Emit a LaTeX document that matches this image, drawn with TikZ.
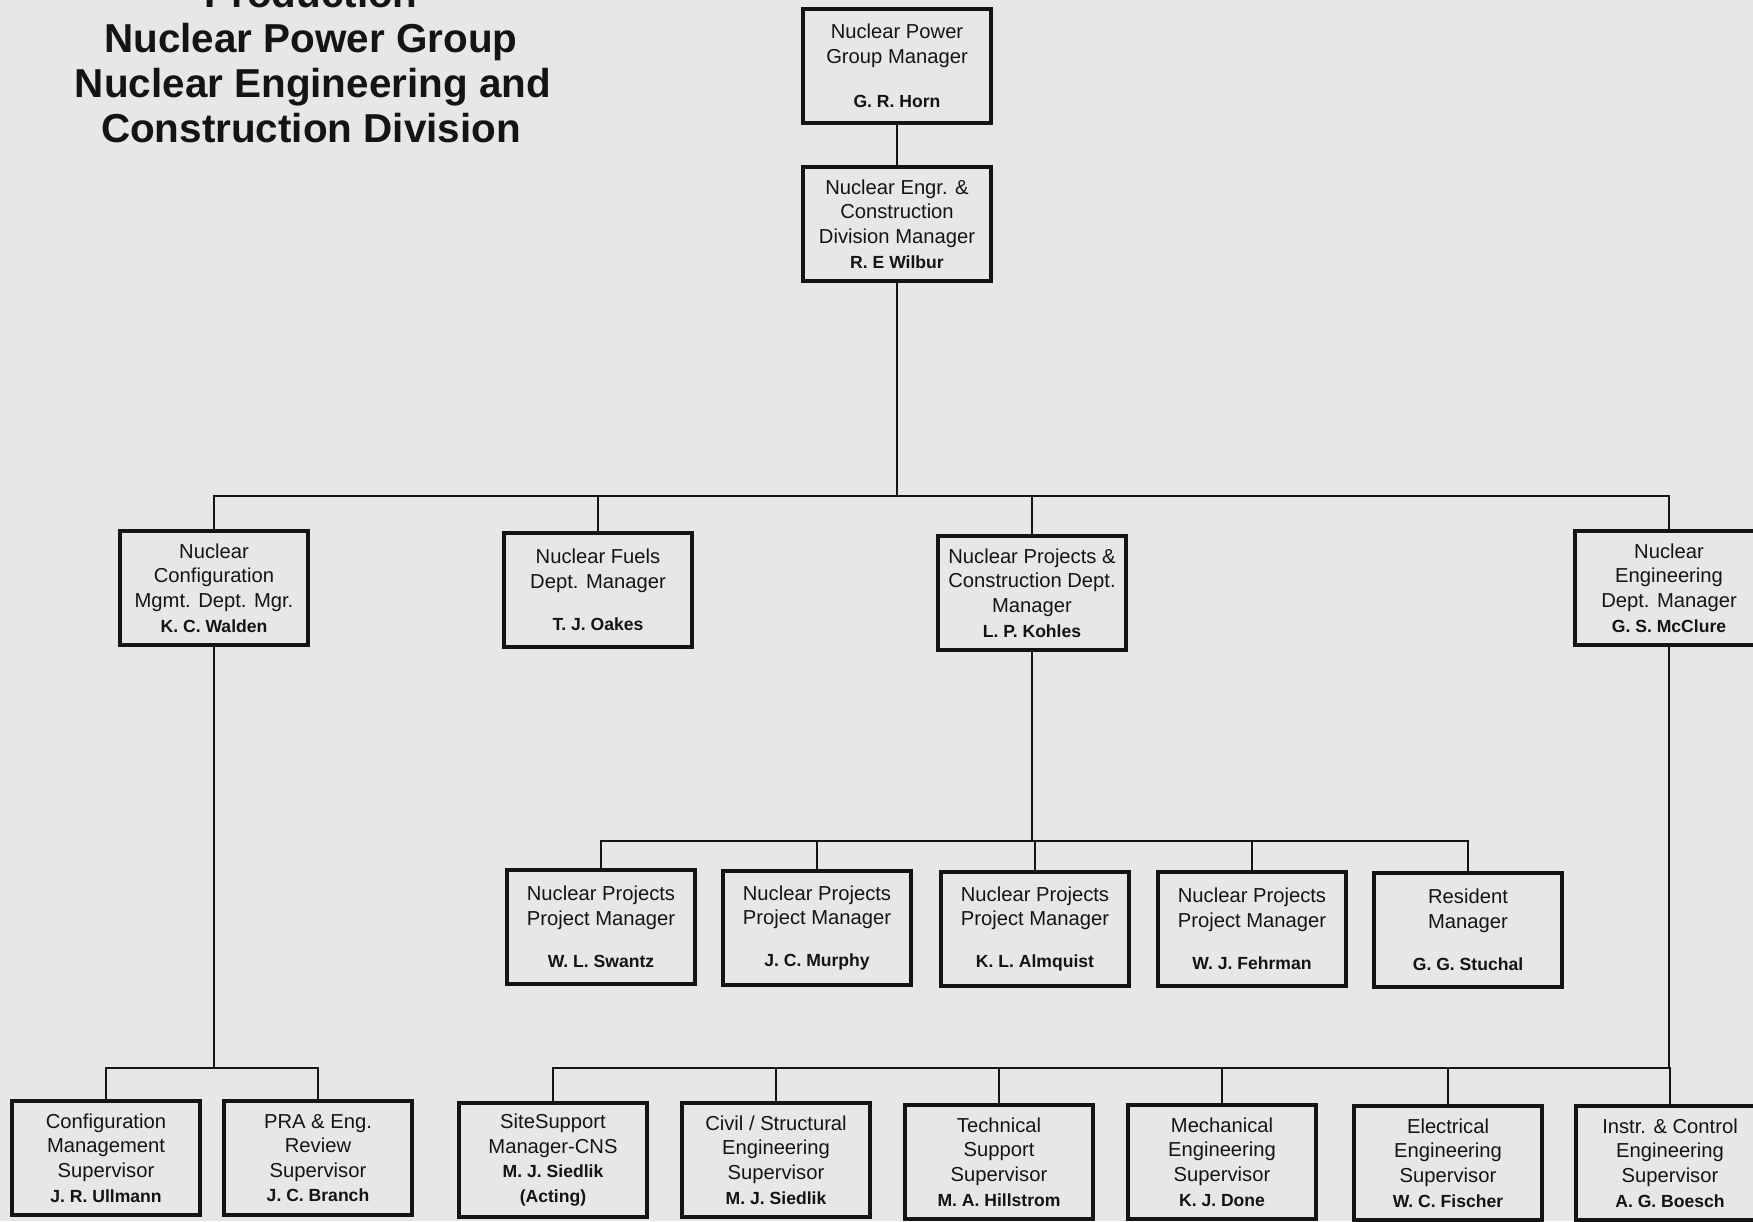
\documentclass[tikz,border=0pt]{standalone}
\usepackage{fontspec}
\setmainfont{Liberation Sans}
\usepackage{tikz}

\definecolor{paper}{RGB}{231,231,231}
\definecolor{ink}{RGB}{20,20,20}
\newcommand{\who}[1]{{\bfseries\fontsize{10}{12}\selectfont #1}}

\begin{document}
\begin{tikzpicture}[x=0.02cm,y=-0.02cm,
  box/.style={draw=ink,line width=2pt,minimum width=3.76cm,minimum height=2.28cm,
    inner sep=0pt,align=center,text=ink,font=\fontsize{11.5}{14}\selectfont},
  head/.style={anchor=base,text=ink,font=\bfseries\fontsize{23}{25}\selectfont},
  wire/.style={draw=ink,line width=1.3pt}]
  \fill[paper] (0,0) rectangle (1753,1221);
  \useasboundingbox (0,0) rectangle (1753,1221);

  \node[head] (t0) at (311,7)   {Production};
  \node[head] (t1) at (311,52)  {Nuclear Power Group};
  \node[head] (t2) at (313,97)  {Nuclear Engineering and};
  \node[head] (t3) at (311,142) {Construction Division};

  \node[box] (horn)   at (897,66)  {Nuclear Power\\Group Manager\\[0.4cm]\who{G. R. Horn}};
  \node[box] (wilbur) at (897,224) {Nuclear Engr. \&\\Construction\\Division Manager\\\who{R. E Wilbur}};

  \node[box] (walden)  at (214,588)  {Nuclear\\Configuration\\Mgmt. Dept. Mgr.\\\who{K. C. Walden}};
  \node[box] (oakes)   at (598,590)  {Nuclear Fuels\\Dept. Manager\\[0.35cm]\who{T. J. Oakes}};
  \node[box] (kohles)  at (1032,593) {Nuclear Projects \&\\Construction Dept.\\Manager\\\who{L. P. Kohles}};
  \node[box] (mcclure) at (1669,588) {Nuclear\\Engineering\\Dept. Manager\\\who{G. S. McClure}};

  \node[box] (swantz)   at (601,927)  {Nuclear Projects\\Project Manager\\[0.35cm]\who{W. L. Swantz}};
  \node[box] (murphy)   at (817,928)  {Nuclear Projects\\Project Manager\\[0.35cm]\who{J. C. Murphy}};
  \node[box] (almquist) at (1035,929) {Nuclear Projects\\Project Manager\\[0.35cm]\who{K. L. Almquist}};
  \node[box] (fehrman)  at (1252,929) {Nuclear Projects\\Project Manager\\[0.35cm]\who{W. J. Fehrman}};
  \node[box] (stuchal)  at (1468,930) {Resident\\Manager\\[0.35cm]\who{G. G. Stuchal}};

  \node[box] (ullmann)   at (106,1158)  {Configuration\\Management\\Supervisor\\\who{J. R. Ullmann}};
  \node[box] (branch)    at (318,1158)  {PRA \& Eng.\\Review\\Supervisor\\\who{J. C. Branch}};
  \node[box] (siedlik)   at (553,1160)  {SiteSupport\\Manager-CNS\\\who{M. J. Siedlik}\\\who{(Acting)}};
  \node[box] (civil)     at (776,1160)  {Civil / Structural\\Engineering\\Supervisor\\\who{M. J. Siedlik}};
  \node[box] (hillstrom) at (999,1162)  {Technical\\Support\\Supervisor\\\who{M. A. Hillstrom}};
  \node[box] (done)      at (1222,1162) {Mechanical\\Engineering\\Supervisor\\\who{K. J. Done}};
  \node[box] (fischer)   at (1448,1163) {Electrical\\Engineering\\Supervisor\\\who{W. C. Fischer}};
  \node[box] (boesch)    at (1670,1163) {Instr. \& Control\\Engineering\\Supervisor\\\who{A. G. Boesch}};

  \coordinate (top)  at (897,496);
  \coordinate (pbus) at (1032,841);
  \coordinate (lbus) at (214,1068);
  \coordinate (rbus) at (1669,1068);

  \path[wire] (horn) edge (wilbur);
  \path[wire] (wilbur) edge (top);
  \foreach \n in {walden,oakes,kohles,mcclure}
    \draw[wire] (\n.north) |- (top);
  \path[wire] (kohles) edge (pbus);
  \foreach \n in {swantz,murphy,almquist,fehrman,stuchal}
    \draw[wire] (\n.north) |- (pbus);
  \path[wire] (walden) edge (lbus);
  \foreach \n in {ullmann,branch}
    \draw[wire] (\n.north) |- (lbus);
  \path[wire] (mcclure) edge (rbus);
  \foreach \n in {siedlik,civil,hillstrom,done,fischer,boesch}
    \draw[wire] (\n.north) |- (rbus);
\end{tikzpicture}
\end{document}
